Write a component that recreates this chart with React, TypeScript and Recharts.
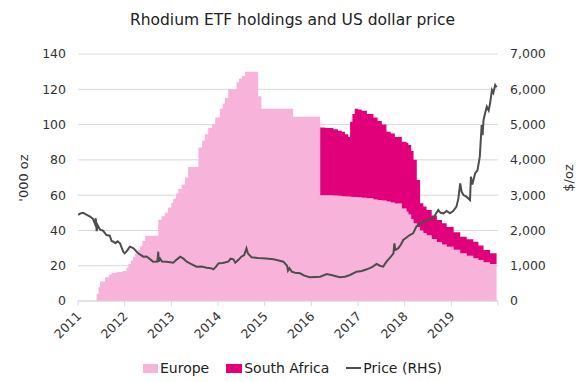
import React from 'react';
import { ComposedChart, Area, Line, XAxis, YAxis, CartesianGrid, Legend } from 'recharts';

const FONT = "'DejaVu Sans', Verdana, sans-serif";

const yearTicks = [2011, 2012, 2013, 2014, 2015, 2016, 2017, 2018, 2019, 2020];
const yearLabels = ['2011', '2012', '2013', '2014', '2015', '2016', '2017', '2018', '2019', ''];
const holdingTicks = [0, 20, 40, 60, 80, 100, 120, 140];
const priceTicks = [0, 1000, 2000, 3000, 4000, 5000, 6000, 7000];

// ETF holdings ('000 oz), step values starting at each date
const holdingDates = [
  2011.40, 2011.44, 2011.47, 2011.58, 2011.66, 2011.72, 2011.83, 2011.95, 2012.04, 2012.08,
  2012.13, 2012.18, 2012.22, 2012.28, 2012.33, 2012.38, 2012.44, 2012.72, 2012.79, 2012.86,
  2012.93, 2013.00, 2013.04, 2013.10, 2013.15, 2013.22, 2013.29, 2013.36, 2013.58, 2013.66,
  2013.72, 2013.79, 2013.87, 2013.94, 2014.04, 2014.10, 2014.15, 2014.22, 2014.40, 2014.45,
  2014.51, 2014.58, 2014.86, 2014.93, 2015.61,
  2016.19, 2016.30, 2016.47, 2016.57, 2016.65, 2016.72, 2016.79, 2016.83, 2016.88, 2016.93,
  2017.00, 2017.08, 2017.19, 2017.33, 2017.42, 2017.51, 2017.61, 2017.70, 2017.79, 2017.94,
  2018.04, 2018.08, 2018.14, 2018.19, 2018.26, 2018.33, 2018.40, 2018.47, 2018.58, 2018.69,
  2018.80, 2018.90, 2019.05, 2019.19, 2019.33, 2019.47, 2019.58, 2019.69, 2019.83, 2019.97,
];
const europe = [
  4, 8, 11, 13.5, 15, 16, 16.5, 17, 19, 21,
  23, 25, 27, 29, 31, 34, 37, 46, 48, 50,
  53, 55.5, 58, 61, 63.5, 66, 70, 76, 87, 91,
  94.5, 98, 100, 104, 109, 112, 115, 120, 124, 126,
  127.5, 130, 116, 109, 104.5,
  60, 59.9, 59.8, 59.6, 59.4, 59.3, 59.2, 59.1, 59.0, 59.0,
  58.8, 58.5, 58.2, 57.6, 57.2, 56.9, 56.4, 55.8, 55.2, 52.5,
  50.6, 49, 46.5, 44, 42, 40, 38.5, 37.2, 35.2, 33.5,
  32, 30.8, 29, 27, 25.6, 24.2, 23.2, 22, 21, 19.8,
];
const southAfrica = [
  0, 0, 0, 0, 0, 0, 0, 0, 0, 0,
  0, 0, 0, 0, 0, 0, 0, 0, 0, 0,
  0, 0, 0, 0, 0, 0, 0, 0, 0, 0,
  0, 0, 0, 0, 0, 0, 0, 0, 0, 0,
  0, 0, 0, 0, 0,
  38.4, 38.1, 37.5, 36.9, 36.6, 35.2, 33.8, 42.5, 47, 50,
  49.7, 49.4, 47.8, 46.4, 44.8, 43.1, 39.6, 39.2, 37.8, 37.8,
  38.9, 39.4, 38.5, 36, 26.6, 15.4, 15, 14.4, 13.3, 12.4,
  12, 11.2, 10, 9.4, 9.4, 9.4, 8.3, 6.9, 6, 5.3,
];

// Rhodium price ($/oz)
const priceDates = [
  2011.00, 2011.05, 2011.11, 2011.18, 2011.26, 2011.32, 2011.36, 2011.38, 2011.40, 2011.42,
  2011.47, 2011.54, 2011.61, 2011.68, 2011.72, 2011.76, 2011.80, 2011.85, 2011.90, 2011.94,
  2011.97, 2012.00, 2012.05, 2012.11, 2012.15, 2012.19, 2012.24, 2012.29, 2012.35, 2012.40,
  2012.47, 2012.55, 2012.61, 2012.70, 2012.72, 2012.73, 2012.76, 2012.80, 2012.90, 2013.04,
  2013.12, 2013.19, 2013.26, 2013.33, 2013.44, 2013.54, 2013.65, 2013.76, 2013.85, 2013.90,
  2013.95, 2014.01, 2014.10, 2014.22, 2014.27, 2014.33, 2014.37, 2014.45, 2014.50, 2014.56,
  2014.61, 2014.64, 2014.72, 2014.85, 2014.97, 2015.08, 2015.19, 2015.30, 2015.40, 2015.48,
  2015.50, 2015.53, 2015.58, 2015.65, 2015.76, 2015.85, 2015.97, 2016.08, 2016.19, 2016.33,
  2016.47, 2016.61, 2016.72, 2016.83, 2016.97, 2017.08, 2017.19, 2017.30, 2017.40, 2017.47,
  2017.54, 2017.61, 2017.70, 2017.76, 2017.78, 2017.80, 2017.86, 2017.92, 2017.97, 2018.04,
  2018.11, 2018.18, 2018.25, 2018.32, 2018.40, 2018.50, 2018.61, 2018.66, 2018.72, 2018.77,
  2018.83, 2018.90, 2018.97, 2019.04, 2019.11, 2019.15, 2019.19, 2019.22, 2019.26, 2019.33,
  2019.40, 2019.42, 2019.45, 2019.51, 2019.56, 2019.61, 2019.65, 2019.67, 2019.69, 2019.72,
  2019.76, 2019.80, 2019.83, 2019.87, 2019.90, 2019.94, 2019.97,
];
const price = [
  2440, 2480, 2500, 2450, 2390, 2330, 2200, 2344, 1980, 2150,
  2030, 1990, 1870, 1850, 1700, 1681, 1640, 1690, 1634, 1500,
  1397, 1351, 1420, 1539, 1520, 1492, 1420, 1351, 1300, 1256,
  1260, 1180, 1114, 1120, 1397, 1114, 1200, 1120, 1114, 1086,
  1180, 1256, 1200, 1114, 1040, 973, 980, 945, 930, 898,
  960, 1067, 1080, 1114, 1200, 1181, 1086, 1180, 1256, 1300,
  1492, 1350, 1237, 1220, 1209, 1200, 1181, 1150, 1114, 1000,
  860, 930, 831, 800, 784, 720, 671, 680, 690, 765,
  720, 671, 690, 737, 831, 850, 898, 960, 1048, 1000,
  973, 1114, 1250, 1351, 1634, 1450, 1492, 1600, 1728, 1800,
  1870, 1918, 2105, 2180, 2248, 2300, 2343, 2450, 2579, 2500,
  2485, 2550, 2485, 2550, 2673, 2900, 3335, 3100, 3004, 2950,
  2862, 3523, 3300, 3618, 3700, 4090, 4988, 4700, 5130, 5300,
  5507, 5400, 5602, 5980, 5900, 6121, 6056,
];

type Row = { x: number; europe: number; southAfrica: number; price: number | null };

const buildRows = (): Row[] => {
  const keys = Array.from(new Set([...holdingDates, ...priceDates])).sort((a, b) => a - b);
  return keys.map((d) => {
    let idx = -1;
    for (let i = 0; i < holdingDates.length; i++) {
      if (holdingDates[i] <= d + 1e-9) idx = i;
    }
    const pi = priceDates.findIndex((p) => Math.abs(p - d) < 1e-9);
    return {
      x: d,
      europe: idx >= 0 ? europe[idx] : 0,
      southAfrica: idx >= 0 ? southAfrica[idx] : 0,
      price: pi >= 0 ? price[pi] : null,
    };
  });
};
const rows = buildRows();

const XTick = (props: any) => {
  const { x, y, payload } = props;
  const i = yearTicks.indexOf(payload.value);
  const label = i >= 0 ? yearLabels[i] : '';
  const tx = x + 4;
  const ty = y + 9;
  return (
    <text x={tx} y={ty} transform={`rotate(-45, ${tx}, ${ty})`} textAnchor="end" fontSize={12.5} fill="#333" fontFamily={FONT}>
      {label}
    </text>
  );
};

const LegendContent = () => (
  <div style={{ display: 'flex', justifyContent: 'center', alignItems: 'center', height: 20, fontFamily: FONT, fontSize: 14, color: '#222' }}>
    <span style={{ display: 'inline-block', width: 15, height: 9, background: '#F7B3DA', marginRight: 2 }} />
    <span style={{ marginRight: 17 }}>Europe</span>
    <span style={{ display: 'inline-block', width: 16, height: 9, background: '#E2007A', marginRight: 2 }} />
    <span style={{ marginRight: 17 }}>South Africa</span>
    <span style={{ display: 'inline-block', width: 15, height: 2, background: '#4D4D4D', marginRight: 2 }} />
    <span>Price (RHS)</span>
  </div>
);

export default function App() {
  return (
    <div style={{ position: 'absolute', left: 0, top: 0, width: 585, height: 382, background: '#fff' }}>
      <div style={{ position: 'absolute', left: 0, top: 0, width: 585, height: 40, lineHeight: '40px', textAlign: 'center', fontFamily: FONT, fontSize: 15.5, color: '#222' }}>
        Rhodium ETF holdings and US dollar price
      </div>
      <ComposedChart width={585} height={382} data={rows} margin={{ top: 54, right: 0, bottom: 0, left: 0 }} style={{ fontFamily: FONT }}>
        <CartesianGrid yAxisId="left" horizontal vertical={false} stroke="#D9D9D9" />
        <XAxis
          dataKey="x"
          type="number"
          domain={[2011, 2020]}
          ticks={yearTicks}
          interval={0}
          allowDataOverflow
          height={61}
          tick={<XTick />}
          tickSize={5}
          stroke="#D9D9D9"
          tickLine={{ stroke: '#D9D9D9' }}
          axisLine={{ stroke: '#D9D9D9' }}
        />
        <YAxis
          yAxisId="left"
          orientation="left"
          width={78}
          domain={[0, 140]}
          ticks={holdingTicks}
          interval={0}
          axisLine={false}
          tickLine={false}
          tickSize={6}
          tickMargin={6}
          tick={{ fontSize: 12.5, fill: '#333', fontFamily: FONT }}
          label={{
            content: () => (
              <text x={24} y={178} transform="rotate(-90, 24, 178)" textAnchor="middle" dominantBaseline="middle" fontSize={13} fill="#333" fontFamily={FONT}>
                '000 oz
              </text>
            ),
          }}
        />
        <YAxis
          yAxisId="right"
          orientation="right"
          width={87}
          domain={[0, 7000]}
          ticks={priceTicks}
          interval={0}
          axisLine={false}
          tickLine={false}
          tickSize={6}
          tickMargin={6}
          tickFormatter={(v: number) => v.toLocaleString('en-US')}
          tick={{ fontSize: 12.5, fill: '#333', fontFamily: FONT }}
          label={{
            content: () => (
              <text x={569} y={178} transform="rotate(-90, 569, 178)" textAnchor="middle" dominantBaseline="middle" fontSize={13} fill="#333" fontFamily={FONT}>
                $/oz
              </text>
            ),
          }}
        />
        <Area
          yAxisId="left"
          type="stepAfter"
          dataKey="europe"
          name="Europe"
          stackId="h"
          stroke="none"
          fill="#F7B3DA"
          fillOpacity={1}
          isAnimationActive={false}
        />
        <Area
          yAxisId="left"
          type="stepAfter"
          dataKey="southAfrica"
          name="South Africa"
          stackId="h"
          stroke="none"
          fill="#E2007A"
          fillOpacity={1}
          isAnimationActive={false}
        />
        <Line
          yAxisId="right"
          type="linear"
          dataKey="price"
          name="Price (RHS)"
          stroke="#4D4D4D"
          strokeWidth={2}
          dot={false}
          connectNulls
          isAnimationActive={false}
        />
        <Legend content={<LegendContent />} wrapperStyle={{ position: 'absolute', left: 0, top: 358, width: 585, height: 20 }} />
      </ComposedChart>
    </div>
  );
}
